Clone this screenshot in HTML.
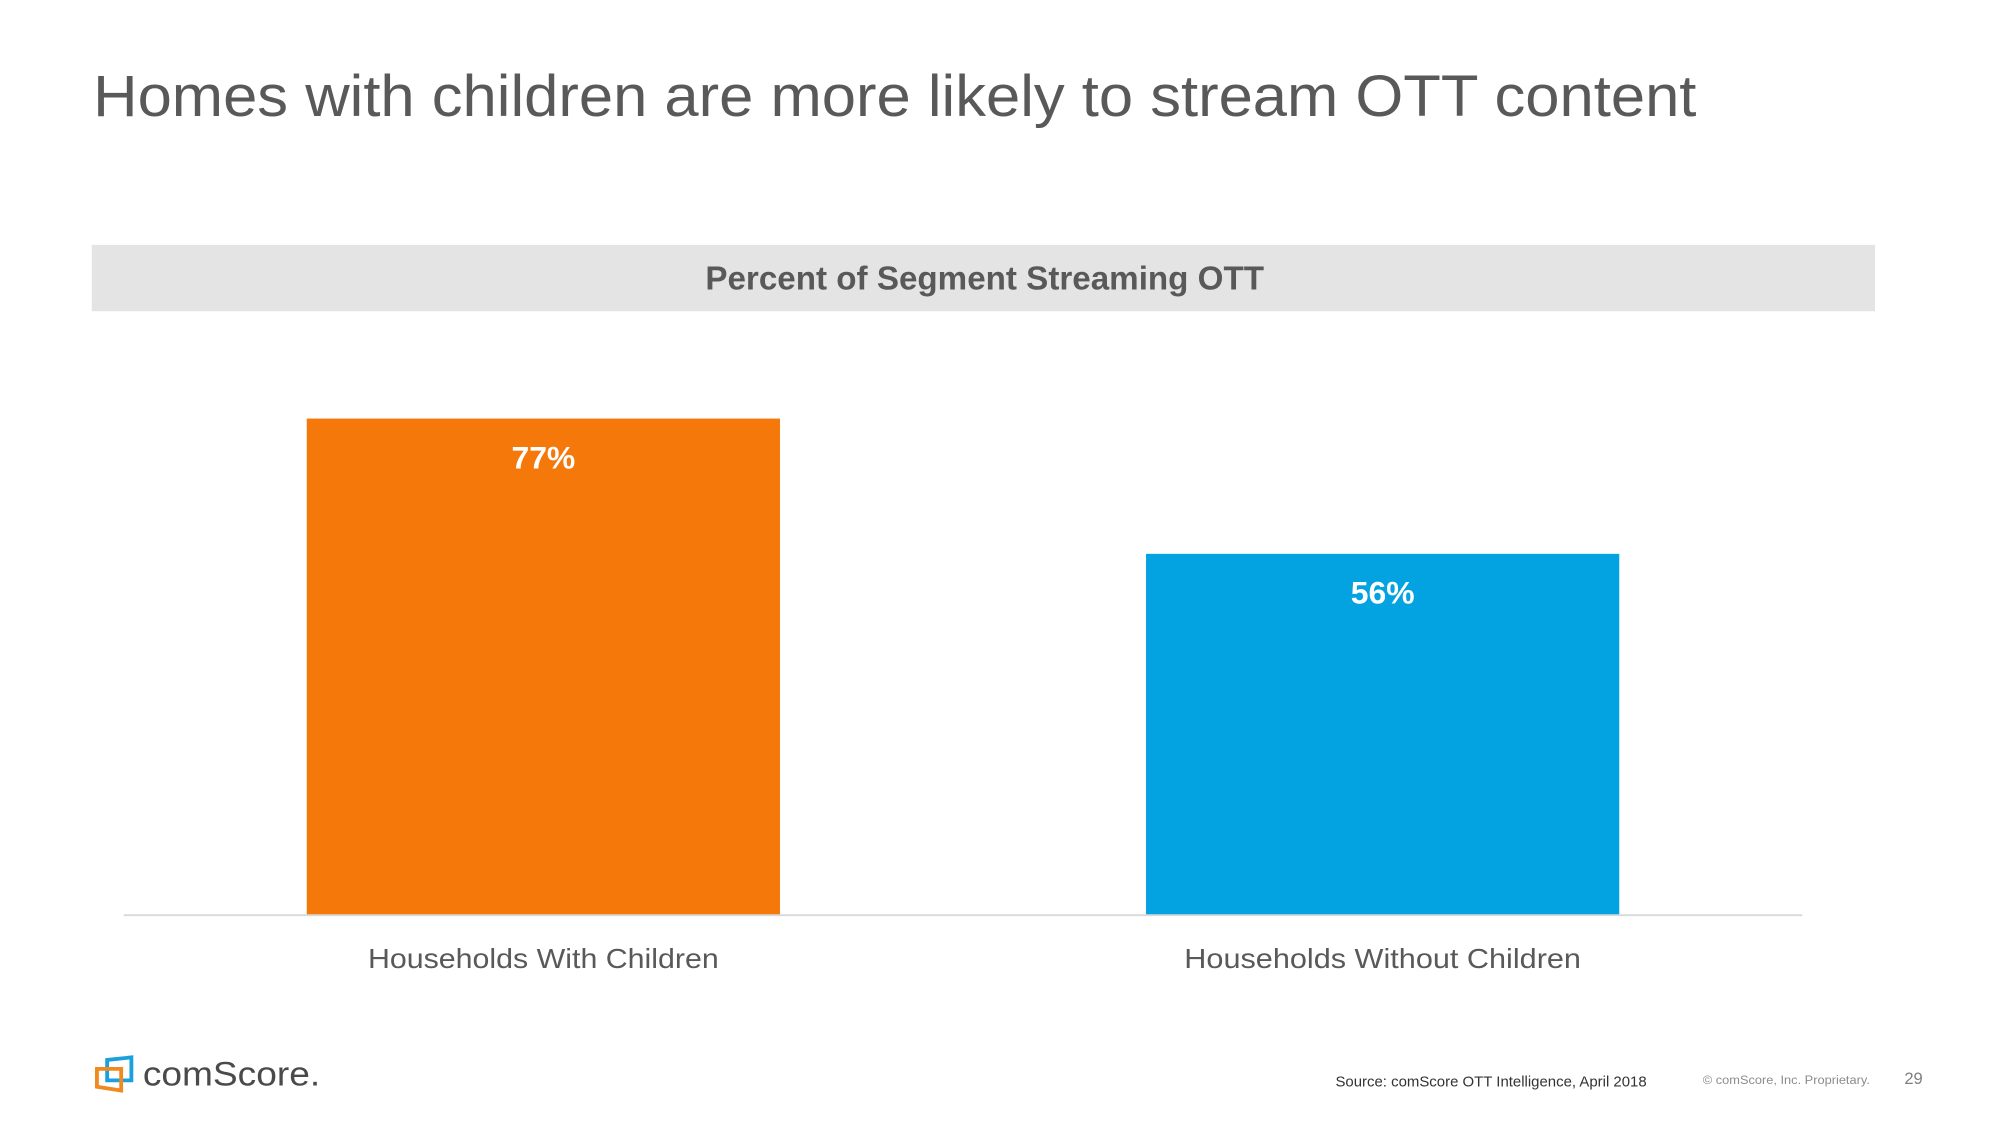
<!DOCTYPE html>
<html><head><meta charset="utf-8"><style>
html,body{margin:0;padding:0;background:#fff;}
svg{display:block;}
text{font-family:"Liberation Sans",sans-serif;}
</style></head><body>
<svg id="chart" width="2000" height="1125" viewBox="0 0 1568 882" preserveAspectRatio="none" xmlns="http://www.w3.org/2000/svg">
<text x="73" y="91" font-size="46" fill="#595959" textLength="1257" lengthAdjust="spacingAndGlyphs">Homes with children are more likely to stream OTT content</text>
<rect x="72" y="192" width="1398" height="52" fill="#e4e4e4"/>
<text x="772" y="227" font-size="26" font-weight="bold" fill="#595959" text-anchor="middle" textLength="438" lengthAdjust="spacingAndGlyphs">Percent of Segment Streaming OTT</text>
<g id="bars"></g>
<line x1="97" y1="717.5" x2="1413" y2="717.5" stroke="#d9d9d9" stroke-width="1.5"/>
<g>
<path d="M84 831 L103 829 L103 847 L84 847 Z" fill="none" stroke="#1aa0db" stroke-width="3"/>
<path d="M76 838 L95 838 L95 855 L76 852 Z" fill="none" stroke="#f08a1e" stroke-width="3"/>
<text x="112" y="851" font-size="27" fill="#4a4a4a" textLength="139" lengthAdjust="spacingAndGlyphs">comScore.</text>
</g>
<text x="1047" y="852" font-size="11.5" fill="#333" textLength="244" lengthAdjust="spacingAndGlyphs">Source: comScore OTT Intelligence, April 2018</text>
<text x="1335" y="850" font-size="9.5" fill="#8c8c8c" textLength="131" lengthAdjust="spacingAndGlyphs">© comScore, Inc. Proprietary.</text>
<text x="1493" y="850" font-size="13" fill="#7f7f7f">29</text>
</svg>
<script>
const categories = ["Households With Children", "Households Without Children"];
const values = [77, 56];
const valueLabels = ["77%", "56%"];
const colors = ["#f5780a", "#02a3e0"];
const NS = "http://www.w3.org/2000/svg";
const baseY = 717, pxPer = 5.05;
function yScale(v){ return baseY - v * pxPer; }
const bandStart = 97, bandW = 658, barW = 371;
function xCenter(i){ return bandStart + bandW * (i + 0.5); }
const g = document.getElementById('bars');
categories.forEach((c, i) => {
  const cx = xCenter(i);
  const top = yScale(values[i]);
  const r = document.createElementNS(NS, 'rect');
  
  
  r.setAttribute('x', cx - barW / 2); r.setAttribute('y', top);
  r.setAttribute('width', barW); r.setAttribute('height', baseY - top);
  r.setAttribute('fill', colors[i]);
  g.appendChild(r);
  const t = document.createElementNS(NS, 'text');
  
  
  t.setAttribute('x', cx); t.setAttribute('y', top + 39);
  t.setAttribute('font-size', '25'); t.setAttribute('font-weight', 'bold');
  t.setAttribute('fill', '#fff'); t.setAttribute('text-anchor', 'middle');
  t.textContent = valueLabels[i];
  g.appendChild(t);
  const l = document.createElementNS(NS, 'text');
  
  
  l.setAttribute('x', cx); l.setAttribute('y', 759);
  l.setAttribute('font-size', '22'); l.setAttribute('fill', '#595959');
  l.setAttribute('text-anchor', 'middle');
  l.setAttribute('textLength', i === 0 ? 275 : 311);
  l.setAttribute('lengthAdjust', 'spacingAndGlyphs');
  l.textContent = c;
  g.appendChild(l);
});
</script>
</body></html>
